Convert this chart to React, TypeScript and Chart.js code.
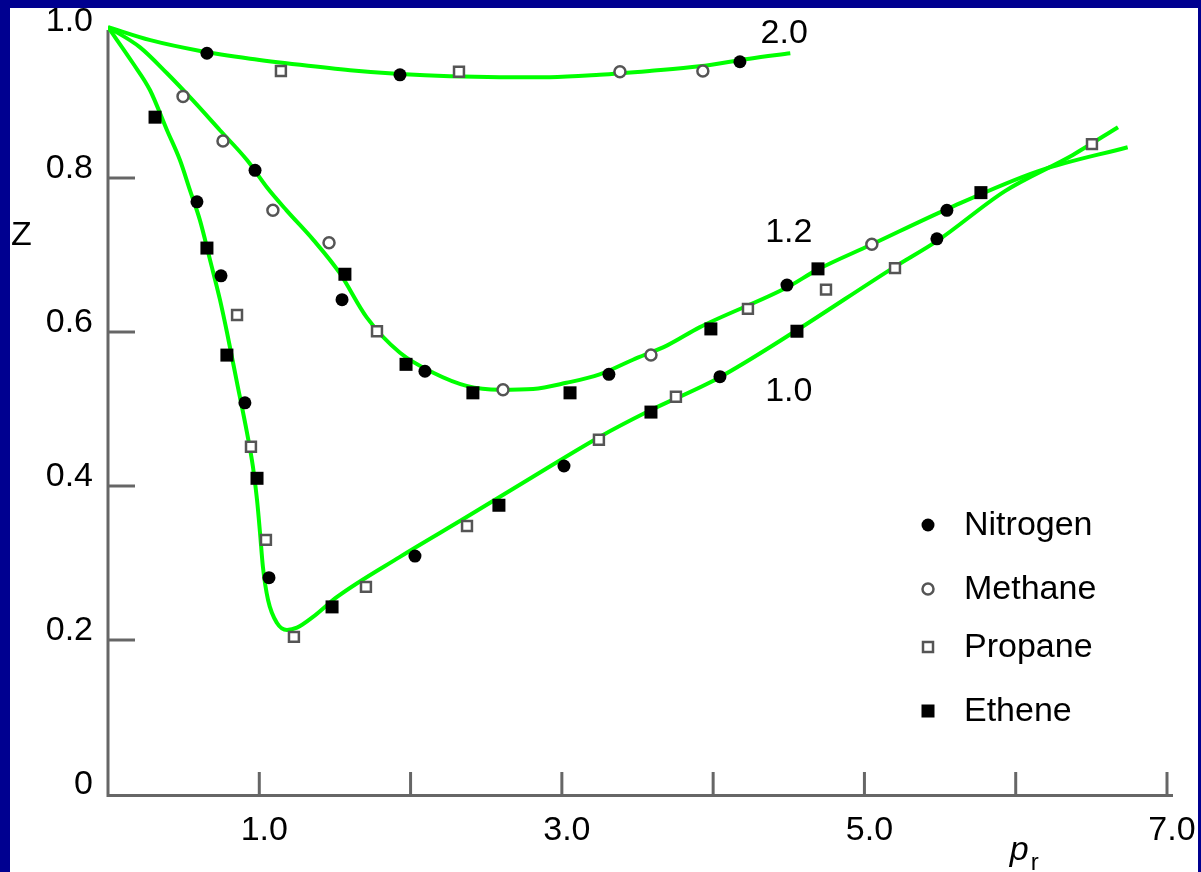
import React, { useEffect, useRef } from 'react';
import { Chart, registerables } from 'chart.js';

Chart.register(...registerables);

// ---- Curves (reduced temperature T_r) ----
const tr20X = [0, 0.28, 0.61, 0.94, 1.27, 1.6, 1.93, 2.26, 2.59, 2.92, 3.25, 3.58, 3.91, 4.24, 4.51];
const tr20Z = [0.996, 0.979, 0.965, 0.955, 0.947, 0.94, 0.935, 0.932, 0.931, 0.931, 0.934, 0.939, 0.945, 0.955, 0.962];

const tr12X = [0, 0.21, 0.39, 0.56, 0.74, 0.92, 1.05, 1.18, 1.36, 1.53, 1.71, 1.93, 2.15, 2.37, 2.59, 2.81, 3.03, 3.25, 3.47, 3.7, 3.91, 4.49, 4.69, 5.04, 5.55, 6.15, 6.74];
const tr12Z = [0.996, 0.97, 0.936, 0.901, 0.862, 0.823, 0.788, 0.758, 0.719, 0.677, 0.619, 0.573, 0.547, 0.53, 0.525, 0.526, 0.534, 0.545, 0.564, 0.583, 0.606, 0.658, 0.681, 0.713, 0.76, 0.809, 0.84];

const tr10X = [0, 0.165, 0.278, 0.39, 0.476, 0.542, 0.608, 0.674, 0.74, 0.787, 0.853, 0.919, 0.958, 0.985, 1.005, 1.024, 1.058, 1.117, 1.183, 1.249, 1.355, 1.514, 1.93, 2.373, 2.809, 3.252, 3.562, 4.032, 4.527, 5.195, 5.486, 5.929, 6.378, 6.676];
const tr10Z = [0.996, 0.949, 0.914, 0.862, 0.823, 0.784, 0.745, 0.694, 0.642, 0.599, 0.534, 0.469, 0.425, 0.382, 0.339, 0.295, 0.252, 0.222, 0.213, 0.216, 0.23, 0.256, 0.308, 0.36, 0.412, 0.464, 0.496, 0.54, 0.599, 0.684, 0.719, 0.783, 0.83, 0.866];

// ---- Measured gases ----
const nitrogenX = [0.654, 1.93, 4.177, 0.588, 0.747, 0.905, 1.064, 2.029, 3.014, 4.045, 5.479, 0.972, 1.547, 2.095, 3.311, 4.488, 5.545];
const nitrogenZ = [0.962, 0.934, 0.951, 0.769, 0.673, 0.508, 0.281, 0.309, 0.426, 0.542, 0.721, 0.81, 0.642, 0.549, 0.545, 0.661, 0.758];

const methaneX = [0.496, 0.76, 1.09, 1.461, 2.611, 3.589, 5.049, 3.384, 3.932];
const methaneZ = [0.906, 0.848, 0.758, 0.716, 0.525, 0.57, 0.714, 0.938, 0.939];

const propaneX = [1.143, 2.32, 0.853, 0.945, 1.044, 1.229, 1.705, 2.373, 3.245, 3.754, 4.746, 5.202, 1.778, 4.23, 6.504];
const propaneZ = [0.939, 0.938, 0.622, 0.451, 0.33, 0.204, 0.269, 0.348, 0.46, 0.516, 0.655, 0.683, 0.601, 0.63, 0.844];

const etheneX = [0.311, 0.654, 0.786, 0.985, 1.481, 2.584, 3.589, 4.554, 1.566, 1.97, 2.412, 3.054, 3.985, 4.693, 5.77];
const etheneZ = [0.879, 0.709, 0.57, 0.41, 0.243, 0.375, 0.496, 0.601, 0.675, 0.558, 0.521, 0.521, 0.604, 0.682, 0.781];

// ---- Axis ticks and labels ----
const xTickValues = [1, 2, 3, 4, 5, 6, 7];
const xLabelValues = [1, 3, 5, 7];
const xLabels = ['1.0', '3.0', '5.0', '7.0'];
const yTickValues = [0.2, 0.4, 0.6, 0.8];
const yLabelValues = [0, 0.2, 0.4, 0.6, 0.8, 1.0];
const yLabels = ['0', '0.2', '0.4', '0.6', '0.8', '1.0'];

// ---- Curve annotations (T_r) ----
const curveLabels = ['2.0', '1.2', '1.0'];
const curveLabelX = [4.47, 4.5, 4.5];
const curveLabelZ = [0.988, 0.729, 0.523];

const legendNames = ['Nitrogen', 'Methane', 'Propane', 'Ethene'];

const zip = (xs: number[], ys: number[]) => xs.map((x, i) => ({ x, y: ys[i] }));

const FONT = '"Liberation Sans", Arial, Helvetica, sans-serif';
const GREEN = '#00ff00';
const AXIS = '#666666';
const OPEN = '#555555';
const BLUE = '#000090';

export default function App() {
  const ref = useRef<HTMLCanvasElement>(null);

  useEffect(() => {
    document.body.style.margin = '0';
    const canvas = ref.current!;

    const drawMarker = (ctx: CanvasRenderingContext2D, kind: number, x: number, y: number) => {
      ctx.save();
      if (kind === 0) {
        ctx.fillStyle = '#000';
        ctx.beginPath();
        ctx.arc(x, y, 6.5, 0, Math.PI * 2);
        ctx.fill();
      } else if (kind === 1) {
        ctx.fillStyle = '#fff';
        ctx.strokeStyle = OPEN;
        ctx.lineWidth = 2.5;
        ctx.beginPath();
        ctx.arc(x, y, 5.5, 0, Math.PI * 2);
        ctx.fill();
        ctx.stroke();
      } else if (kind === 2) {
        ctx.fillStyle = '#fff';
        ctx.strokeStyle = OPEN;
        ctx.lineWidth = 2.5;
        ctx.fillRect(x - 5, y - 5, 10, 10);
        ctx.strokeRect(x - 5, y - 5, 10, 10);
      } else {
        ctx.fillStyle = '#000';
        ctx.fillRect(x - 6.5, y - 6.5, 13, 13);
      }
      ctx.restore();
    };

    const frame = {
      id: 'frame',
      beforeDraw(chart: any) {
        const { ctx, width, height } = chart;
        ctx.save();
        ctx.fillStyle = BLUE;
        ctx.fillRect(0, 0, width, height);
        ctx.fillStyle = '#ffffff';
        ctx.fillRect(10, 8, 1188, height - 8);
        ctx.restore();
      },
      beforeDatasetsDraw(chart: any) {
        const { ctx } = chart;
        const xs = chart.scales.x;
        const ys = chart.scales.y;
        const x0 = xs.getPixelForValue(0);
        const y0 = ys.getPixelForValue(0);
        ctx.save();
        ctx.strokeStyle = AXIS;
        ctx.lineWidth = 3;
        ctx.lineCap = 'butt';
        ctx.beginPath();
        ctx.moveTo(x0, ys.getPixelForValue(1) + 6);
        ctx.lineTo(x0, y0 + 1.5);
        ctx.lineTo(xs.getPixelForValue(7) + 6, y0 + 1.5);
        ctx.stroke();
        // x ticks (inward)
        xTickValues.forEach((v) => {
          const px = xs.getPixelForValue(v);
          ctx.beginPath();
          ctx.moveTo(px, y0);
          ctx.lineTo(px, y0 - 22);
          ctx.stroke();
        });
        yTickValues.forEach((v) => {
          const py = ys.getPixelForValue(v);
          ctx.beginPath();
          ctx.moveTo(x0, py);
          ctx.lineTo(x0 + 27, py);
          ctx.stroke();
        });
        // tick labels
        ctx.fillStyle = '#000';
        ctx.font = `34px ${FONT}`;
        ctx.textBaseline = 'middle';
        ctx.textAlign = 'right';
        yLabelValues.forEach((v, i) => {
          const py = Math.max(ys.getPixelForValue(v) - 9, 22);
          ctx.fillText(yLabels[i], x0 - 15, py);
        });
        ctx.textAlign = 'center';
        xLabelValues.forEach((v, i) => {
          ctx.fillText(xLabels[i], xs.getPixelForValue(v) + 5, y0 + 37);
        });
        // axis titles
        ctx.textAlign = 'left';
        ctx.fillText('Z', 11, ys.getPixelForValue(0.725));
        ctx.textBaseline = 'alphabetic';
        ctx.font = `italic 34px ${FONT}`;
        ctx.fillText('p', xs.getPixelForValue(5.96), y0 + 66);
        ctx.font = `24px ${FONT}`;
        ctx.fillText('r', xs.getPixelForValue(6.1), y0 + 76);
        // curve labels
        ctx.font = `34px ${FONT}`;
        ctx.textAlign = 'center';
        ctx.textBaseline = 'middle';
        curveLabels.forEach((t, i) => {
          ctx.fillText(t, xs.getPixelForValue(curveLabelX[i]), ys.getPixelForValue(curveLabelZ[i]));
        });
        ctx.restore();
      },
      afterDraw(chart: any) {
        const { ctx } = chart;
        const rows = [525, 589, 647, 711];
        ctx.save();
        ctx.font = `34px ${FONT}`;
        ctx.fillStyle = '#000';
        ctx.textAlign = 'left';
        ctx.textBaseline = 'middle';
        legendNames.forEach((name, i) => {
          drawMarker(ctx, i, 928, rows[i]);
          ctx.fillText(name, 964, rows[i] + 1);
        });
        ctx.restore();
      },
    };

    const lineDs = (data: { x: number; y: number }[]) => ({
      type: 'line' as const,
      data,
      showLine: true,
      borderColor: GREEN,
      borderWidth: 4,
      pointRadius: 0,
      fill: false,
      cubicInterpolationMode: 'monotone' as const,
      order: 2,
    });

    const chart = new Chart(canvas, {
      type: 'scatter',
      data: {
        datasets: [
          {
            label: 'Nitrogen',
            data: zip(nitrogenX, nitrogenZ),
            pointStyle: 'circle',
            pointRadius: 6.5,
            backgroundColor: '#000',
            borderColor: '#000',
            borderWidth: 0,
            order: 1,
          },
          {
            label: 'Methane',
            data: zip(methaneX, methaneZ),
            pointStyle: 'circle',
            pointRadius: 5.5,
            backgroundColor: '#fff',
            borderColor: OPEN,
            borderWidth: 2.5,
            order: 1,
          },
          {
            label: 'Propane',
            data: zip(propaneX, propaneZ),
            pointStyle: 'rect',
            pointRadius: 7,
            backgroundColor: '#fff',
            borderColor: OPEN,
            borderWidth: 2.5,
            order: 1,
          },
          {
            label: 'Ethene',
            data: zip(etheneX, etheneZ),
            pointStyle: 'rect',
            pointRadius: 9.2,
            backgroundColor: '#000',
            borderColor: '#000',
            borderWidth: 0,
            order: 1,
          },
          { label: 'Tr 2.0', ...lineDs(zip(tr20X, tr20Z)) },
          { label: 'Tr 1.2', ...lineDs(zip(tr12X, tr12Z)) },
          { label: 'Tr 1.0', ...lineDs(zip(tr10X, tr10Z)) },
        ] as any,
      },
      options: {
        responsive: false,
        animation: false,
        devicePixelRatio: 1,
        layout: { padding: { left: 108, right: 34, top: 24, bottom: 78 } },
        plugins: { legend: { display: false }, tooltip: { enabled: false } },
        events: [],
        scales: {
          x: { type: 'linear', min: 0, max: 7, display: false },
          y: { type: 'linear', min: 0, max: 1, display: false },
        },
      },
      plugins: [frame],
    });

    return () => chart.destroy();
  }, []);

  return (
    <div style={{ position: 'fixed', left: 0, top: 0, width: 1201, height: 872 }}>
      <canvas ref={ref} width={1201} height={872} style={{ display: 'block' }} />
    </div>
  );
}
